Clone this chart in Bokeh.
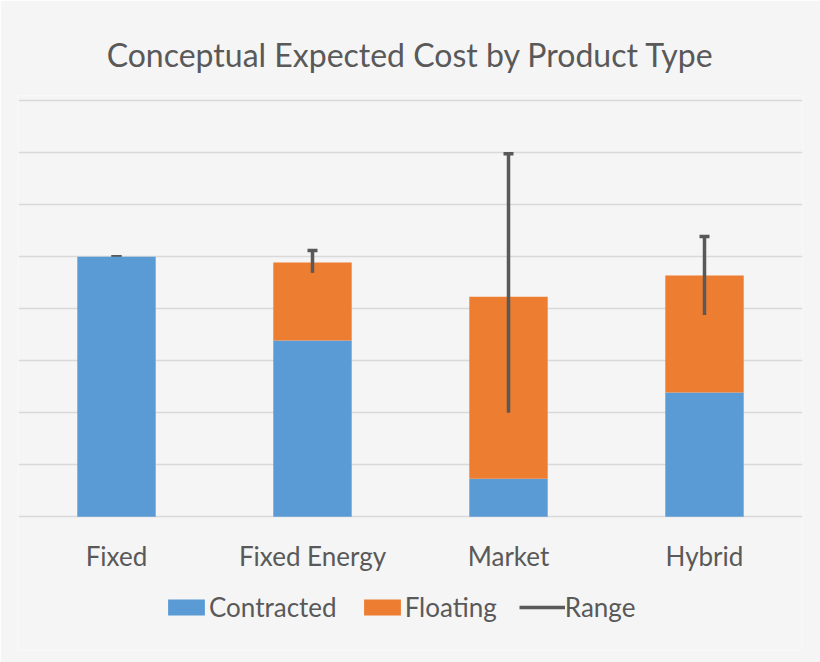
from bokeh.plotting import figure
from bokeh.core.properties import value
from bokeh.models import Range1d, FactorRange, FixedTicker, Whisker, ColumnDataSource, Legend, LegendItem, TeeHead, LabelSet
from bokeh.embed import file_html
from bokeh.resources import INLINE

categories = ["Fixed", "Fixed Energy", "Market", "Hybrid"]
contracted = [5.0, 3.39, 0.73, 2.39]
floating = [0.0, 1.50, 3.50, 2.25]
range_low = [5.0, 4.69, 2.0, 3.88]
range_high = [5.0, 5.12, 6.98, 5.39]
grid_ticks = [0, 1, 2, 3, 4, 5, 6, 7, 8]

BG = "#f5f5f5"
TXT = "#595959"
FONT = "Lato"

src = ColumnDataSource(dict(cat=categories, Contracted=contracted, Floating=floating,
                            low=range_low, high=range_high))

# frame spans from the top gridline area down to the legend; value 0 sits at the baseline
p = figure(width=820, height=662, x_range=FactorRange(*categories, range_padding=0),
           y_range=Range1d(-2.57, 8.1), output_backend="svg", toolbar_location=None,
           min_border_left=18, min_border_right=18, min_border_top=95, min_border_bottom=12)
p.background_fill_color = BG
p.border_fill_color = BG
p.outline_line_color = None

bars = p.vbar_stack(["Contracted", "Floating"], x="cat", width=0.4, source=src,
                    color=["#5B9BD5", "#ED7D31"], line_color=None)

rng = p.segment(x0="cat", y0="low", x1="cat", y1="high", source=src,
                line_color="#595959", line_width=3.5)
wh = Whisker(base="cat", lower="low", upper="high", source=src,
             line_alpha=0,
             upper_head=TeeHead(size=10, line_color="#595959", line_width=3.5),
             lower_head=TeeHead(size=10, line_color="#595959", line_width=3.5))
p.add_layout(wh)

p.title.text = "Conceptual Expected Cost by Product Type"
p.title.text_font = FONT
p.title.text_font_size = "32px"
p.title.text_font_style = "normal"
p.title.text_color = TXT
p.title.align = "center"
p.title.standoff = 43

p.yaxis.visible = False
p.xaxis.visible = False
p.ygrid.ticker = FixedTicker(ticks=grid_ticks)
p.ygrid.grid_line_color = "#d9d9d9"
p.ygrid.grid_line_width = 1.5
p.xgrid.grid_line_color = None

cat_labels = LabelSet(x="cat", y=95, y_units="screen", text="cat", source=src,
                      text_font=value(FONT), text_font_size=value("26px"), text_color=TXT,
                      text_align="center", text_baseline="middle")
p.add_layout(cat_labels)

legend = Legend(items=[LegendItem(label="Contracted", renderers=[bars[0]]),
                       LegendItem(label="Floating", renderers=[bars[1]]),
                       LegendItem(label="Range", renderers=[rng])],
                orientation="horizontal", location=(145, 27),
                glyph_width=46, glyph_height=20, label_standoff=0, spacing=22,
                label_text_font=FONT, label_text_font_size="26px", label_text_color=TXT,
                background_fill_alpha=0, border_line_color=None, margin=0, padding=0)
p.add_layout(legend)

open("out.html", "w").write(file_html(p, INLINE))
